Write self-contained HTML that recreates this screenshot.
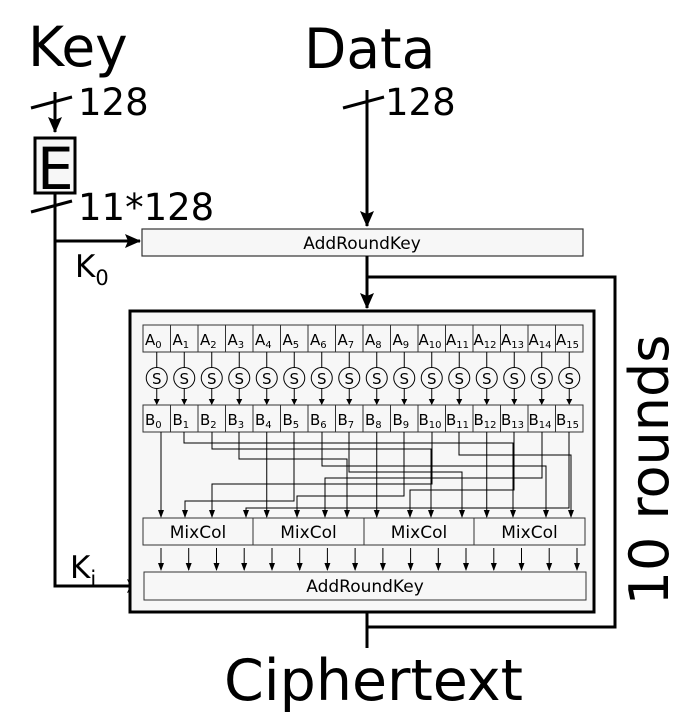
<!DOCTYPE html>
<html><head><meta charset="utf-8"><style>
html,body{margin:0;padding:0;background:#fff;width:689px;height:718px;overflow:hidden}
svg{display:block}
text{font-family:"DejaVu Sans","Liberation Sans",sans-serif;fill:#000}
</style></head><body>
<svg width="689" height="718" viewBox="0 0 689 718" xmlns="http://www.w3.org/2000/svg">
<defs>
<marker id="a" markerWidth="8" markerHeight="8" refX="7" refY="4" orient="auto" markerUnits="userSpaceOnUse"><path d="M0,1 L8,4 L0,7 Z" fill="#000"/></marker>
<marker id="b" markerWidth="16" markerHeight="16" refX="15" refY="8" orient="auto" markerUnits="userSpaceOnUse"><path d="M0,1 L16,8 L0,15 L3,8 Z" fill="#000"/></marker>
</defs>
<text x="28" y="66" font-size="55">Key</text>
<text x="304" y="68" font-size="55">Data</text>
<text x="78" y="115" font-size="37">128</text>
<text x="385" y="115" font-size="37">128</text>
<text x="78" y="220" font-size="37">11*128</text>
<text x="75" y="277" font-size="31">K<tspan font-size="21" dy="8">0</tspan></text>
<text x="70" y="578" font-size="31">K<tspan font-size="21" dy="8">i</tspan></text>
<text x="224" y="700" font-size="57">Ciphertext</text>
<text transform="translate(668,470) rotate(-90)" font-size="54" text-anchor="middle">10 rounds</text>

<path d="M55,92 V132" stroke="#000" stroke-width="3" fill="none" marker-end="url(#b)"/>
<line x1="31" y1="108" x2="72" y2="97" stroke="#000" stroke-width="3"/>
<rect x="35" y="138" width="40" height="55" fill="#f7f7f7" stroke="#000" stroke-width="3"/>
<text x="37" y="189" font-size="58">E</text>
<path d="M55,193 V586 H142" stroke="#000" stroke-width="3" fill="none" marker-end="url(#b)"/>
<line x1="31" y1="212" x2="72" y2="201" stroke="#000" stroke-width="3"/>
<path d="M55,241 H140" stroke="#000" stroke-width="3" fill="none" marker-end="url(#b)"/>

<path d="M367,90 V226" stroke="#000" stroke-width="3" fill="none" marker-end="url(#b)"/>
<line x1="343" y1="108" x2="384" y2="97" stroke="#000" stroke-width="3"/>
<rect x="142" y="229" width="441" height="27" fill="#f7f7f7" stroke="#333" stroke-width="1.2"/>
<text x="362" y="249" font-size="17" text-anchor="middle">AddRoundKey</text>
<path d="M367,256 V308" stroke="#000" stroke-width="3" fill="none" marker-end="url(#b)"/>
<path d="M367,277 H615 V627 H367" stroke="#000" stroke-width="3" fill="none"/>
<path d="M367,612 V648" stroke="#000" stroke-width="3" fill="none"/>

<rect x="130" y="311" width="464" height="301" fill="#f7f7f7" stroke="#000" stroke-width="3"/>

<rect x="143" y="325" width="440" height="27" fill="#f7f7f7" stroke="#333" stroke-width="1"/>
<g stroke="#333" stroke-width="1">
<line x1="170.5" y1="325" x2="170.5" y2="352"/><line x1="198" y1="325" x2="198" y2="352"/><line x1="225.5" y1="325" x2="225.5" y2="352"/><line x1="253" y1="325" x2="253" y2="352"/><line x1="280.5" y1="325" x2="280.5" y2="352"/><line x1="308" y1="325" x2="308" y2="352"/><line x1="335.5" y1="325" x2="335.5" y2="352"/><line x1="363" y1="325" x2="363" y2="352"/><line x1="390.5" y1="325" x2="390.5" y2="352"/><line x1="418" y1="325" x2="418" y2="352"/><line x1="445.5" y1="325" x2="445.5" y2="352"/><line x1="473" y1="325" x2="473" y2="352"/><line x1="500.5" y1="325" x2="500.5" y2="352"/><line x1="528" y1="325" x2="528" y2="352"/><line x1="555.5" y1="325" x2="555.5" y2="352"/>
</g>
<g font-size="15">
<text x="145" y="345">A<tspan font-size="10" dy="3">0</tspan></text>
<text x="172.5" y="345">A<tspan font-size="10" dy="3">1</tspan></text>
<text x="200" y="345">A<tspan font-size="10" dy="3">2</tspan></text>
<text x="227.5" y="345">A<tspan font-size="10" dy="3">3</tspan></text>
<text x="255" y="345">A<tspan font-size="10" dy="3">4</tspan></text>
<text x="282.5" y="345">A<tspan font-size="10" dy="3">5</tspan></text>
<text x="310" y="345">A<tspan font-size="10" dy="3">6</tspan></text>
<text x="337.5" y="345">A<tspan font-size="10" dy="3">7</tspan></text>
<text x="365" y="345">A<tspan font-size="10" dy="3">8</tspan></text>
<text x="392.5" y="345">A<tspan font-size="10" dy="3">9</tspan></text>
<text x="418.5" y="345">A<tspan font-size="10" dy="3">10</tspan></text>
<text x="446" y="345">A<tspan font-size="10" dy="3">11</tspan></text>
<text x="473.5" y="345">A<tspan font-size="10" dy="3">12</tspan></text>
<text x="501" y="345">A<tspan font-size="10" dy="3">13</tspan></text>
<text x="528.5" y="345">A<tspan font-size="10" dy="3">14</tspan></text>
<text x="556" y="345">A<tspan font-size="10" dy="3">15</tspan></text>
</g>

<g stroke="#000" stroke-width="1" fill="none">
<path d="M156.75,352 V368 M156.75,388 V404 M184.25,352 V368 M184.25,388 V404 M211.75,352 V368 M211.75,388 V404 M239.25,352 V368 M239.25,388 V404 M266.75,352 V368 M266.75,388 V404 M294.25,352 V368 M294.25,388 V404 M321.75,352 V368 M321.75,388 V404 M349.25,352 V368 M349.25,388 V404 M376.75,352 V368 M376.75,388 V404 M404.25,352 V368 M404.25,388 V404 M431.75,352 V368 M431.75,388 V404 M459.25,352 V368 M459.25,388 V404 M486.75,352 V368 M486.75,388 V404 M514.25,352 V368 M514.25,388 V404 M541.75,352 V368 M541.75,388 V404 M569.25,352 V368 M569.25,388 V404"/>
</g>
<g fill="#000">
<path d="M153.75,399 L159.75,399 L156.75,405Z M181.25,399 L187.25,399 L184.25,405Z M208.75,399 L214.75,399 L211.75,405Z M236.25,399 L242.25,399 L239.25,405Z M263.75,399 L269.75,399 L266.75,405Z M291.25,399 L297.25,399 L294.25,405Z M318.75,399 L324.75,399 L321.75,405Z M346.25,399 L352.25,399 L349.25,405Z M373.75,399 L379.75,399 L376.75,405Z M401.25,399 L407.25,399 L404.25,405Z M428.75,399 L434.75,399 L431.75,405Z M456.25,399 L462.25,399 L459.25,405Z M483.75,399 L489.75,399 L486.75,405Z M511.25,399 L517.25,399 L514.25,405Z M538.75,399 L544.75,399 L541.75,405Z M566.25,399 L572.25,399 L569.25,405Z"/>
</g>
<g fill="#f7f7f7" stroke="#000" stroke-width="1">
<circle cx="156.75" cy="378" r="10.5"/><circle cx="184.25" cy="378" r="10.5"/><circle cx="211.75" cy="378" r="10.5"/><circle cx="239.25" cy="378" r="10.5"/><circle cx="266.75" cy="378" r="10.5"/><circle cx="294.25" cy="378" r="10.5"/><circle cx="321.75" cy="378" r="10.5"/><circle cx="349.25" cy="378" r="10.5"/><circle cx="376.75" cy="378" r="10.5"/><circle cx="404.25" cy="378" r="10.5"/><circle cx="431.75" cy="378" r="10.5"/><circle cx="459.25" cy="378" r="10.5"/><circle cx="486.75" cy="378" r="10.5"/><circle cx="514.25" cy="378" r="10.5"/><circle cx="541.75" cy="378" r="10.5"/><circle cx="569.25" cy="378" r="10.5"/>
</g>
<g font-size="15" text-anchor="middle">
<text x="156.75" y="384">S</text><text x="184.25" y="384">S</text><text x="211.75" y="384">S</text><text x="239.25" y="384">S</text><text x="266.75" y="384">S</text><text x="294.25" y="384">S</text><text x="321.75" y="384">S</text><text x="349.25" y="384">S</text><text x="376.75" y="384">S</text><text x="404.25" y="384">S</text><text x="431.75" y="384">S</text><text x="459.25" y="384">S</text><text x="486.75" y="384">S</text><text x="514.25" y="384">S</text><text x="541.75" y="384">S</text><text x="569.25" y="384">S</text>
</g>

<rect x="143" y="405" width="440" height="27" fill="#f7f7f7" stroke="#333" stroke-width="1"/>
<g stroke="#333" stroke-width="1">
<line x1="170.5" y1="405" x2="170.5" y2="432"/><line x1="198" y1="405" x2="198" y2="432"/><line x1="225.5" y1="405" x2="225.5" y2="432"/><line x1="253" y1="405" x2="253" y2="432"/><line x1="280.5" y1="405" x2="280.5" y2="432"/><line x1="308" y1="405" x2="308" y2="432"/><line x1="335.5" y1="405" x2="335.5" y2="432"/><line x1="363" y1="405" x2="363" y2="432"/><line x1="390.5" y1="405" x2="390.5" y2="432"/><line x1="418" y1="405" x2="418" y2="432"/><line x1="445.5" y1="405" x2="445.5" y2="432"/><line x1="473" y1="405" x2="473" y2="432"/><line x1="500.5" y1="405" x2="500.5" y2="432"/><line x1="528" y1="405" x2="528" y2="432"/><line x1="555.5" y1="405" x2="555.5" y2="432"/>
</g>
<g font-size="15">
<text x="145" y="425">B<tspan font-size="10" dy="3">0</tspan></text>
<text x="172.5" y="425">B<tspan font-size="10" dy="3">1</tspan></text>
<text x="200" y="425">B<tspan font-size="10" dy="3">2</tspan></text>
<text x="227.5" y="425">B<tspan font-size="10" dy="3">3</tspan></text>
<text x="255" y="425">B<tspan font-size="10" dy="3">4</tspan></text>
<text x="282.5" y="425">B<tspan font-size="10" dy="3">5</tspan></text>
<text x="310" y="425">B<tspan font-size="10" dy="3">6</tspan></text>
<text x="337.5" y="425">B<tspan font-size="10" dy="3">7</tspan></text>
<text x="365" y="425">B<tspan font-size="10" dy="3">8</tspan></text>
<text x="392.5" y="425">B<tspan font-size="10" dy="3">9</tspan></text>
<text x="418.5" y="425">B<tspan font-size="10" dy="3">10</tspan></text>
<text x="446" y="425">B<tspan font-size="10" dy="3">11</tspan></text>
<text x="473.5" y="425">B<tspan font-size="10" dy="3">12</tspan></text>
<text x="501" y="425">B<tspan font-size="10" dy="3">13</tspan></text>
<text x="528.5" y="425">B<tspan font-size="10" dy="3">14</tspan></text>
<text x="556" y="425">B<tspan font-size="10" dy="3">15</tspan></text>
</g>

<g stroke="#000" stroke-width="1" fill="none" marker-end="url(#a)">
<path d="M161,432 V517"/>
<path d="M294,432 V501 H185 V517"/>
<path d="M432,432 V484 H212 V517"/>
<path d="M569,432 V508 H246 V517"/>
<path d="M266.75,432 V517"/>
<path d="M404,432 V496 H297 V517"/>
<path d="M542,432 V478 H325 V517"/>
<path d="M239,432 V459 H347 V517"/>
<path d="M376.75,432 V517"/>
<path d="M514,432 V490 H410 V517"/>
<path d="M212,432 V449 H431 V517"/>
<path d="M349,432 V472 H462 V517"/>
<path d="M486.75,432 V517"/>
<path d="M184,432 V443 H513 V517"/>
<path d="M322,432 V466 H546 V517"/>
<path d="M459,432 V455 H571 V517"/>
</g>

<g fill="#f7f7f7" stroke="#333" stroke-width="1">
<rect x="143" y="518" width="110" height="27"/><rect x="253" y="518" width="111" height="27"/><rect x="364" y="518" width="110" height="27"/><rect x="474" y="518" width="111" height="27"/>
</g>
<g font-size="17" text-anchor="middle">
<text x="198" y="538">MixCol</text><text x="308.5" y="538">MixCol</text><text x="419" y="538">MixCol</text><text x="529.5" y="538">MixCol</text>
</g>
<g stroke="#000" stroke-width="1" fill="none" marker-end="url(#a)">
<path d="M161,548 V570"/><path d="M188.7,548 V570"/><path d="M216.5,548 V570"/><path d="M244.2,548 V570"/><path d="M272,548 V570"/><path d="M299.7,548 V570"/><path d="M327.4,548 V570"/><path d="M355.1,548 V570"/><path d="M382.9,548 V570"/><path d="M410.6,548 V570"/><path d="M438.3,548 V570"/><path d="M466,548 V570"/><path d="M493.8,548 V570"/><path d="M521.5,548 V570"/><path d="M549.2,548 V570"/><path d="M577,548 V570"/>
</g>
<rect x="144" y="572" width="442" height="28" fill="#f7f7f7" stroke="#333" stroke-width="1"/>
<text x="365" y="592" font-size="17" text-anchor="middle">AddRoundKey</text>
</svg>
</body></html>
